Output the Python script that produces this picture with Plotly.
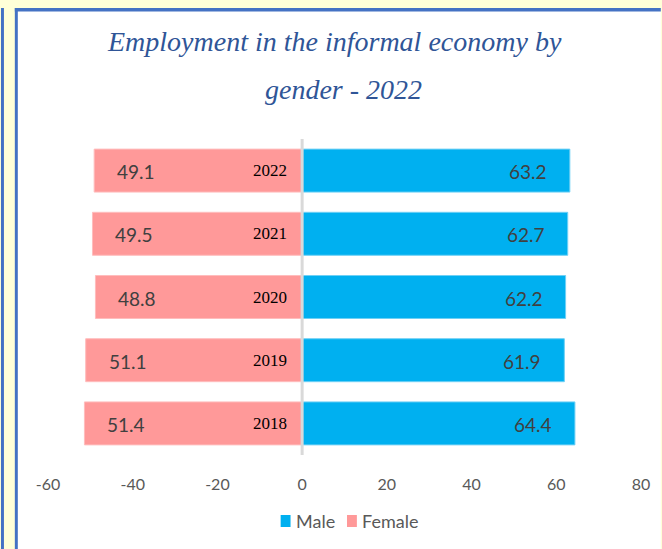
import plotly.graph_objects as go

# Share of employment in the informal economy (%), by gender
years = ["2018", "2019", "2020", "2021", "2022"]
male = [64.4, 61.9, 62.2, 62.7, 63.2]
female = [51.4, 51.1, 48.8, 49.5, 49.1]
tick_values = [-60, -40, -20, 0, 20, 40, 60, 80]

MALE_COLOR = "#00B0F0"
FEMALE_COLOR = "#FF9999"
FRAME_BLUE = "#4472C4"
LABEL_GREY = "#404040"
AXIS_GREY = "#595959"
SERIF = "Liberation Serif, Times New Roman, serif"
SANS = "Lato, sans-serif"

W, H = 662, 549
L, R, T, B = 48, 15, 139, 94
PW, PH = W - L - R, H - T - B


def px(x):
    """Pixel x -> paper x."""
    return (x - L) / PW


def py(y):
    """Pixel y -> paper y."""
    return (H - B - y) / PH


fig = go.Figure()

fig.add_trace(go.Bar(
    name="Male", y=years, x=male, orientation="h",
    marker=dict(color=MALE_COLOR, line=dict(color="#6FD0F5", width=1)),
    hoverinfo="x+y",
))
fig.add_trace(go.Bar(
    name="Female", y=years, x=[-v for v in female], orientation="h",
    marker=dict(color=FEMALE_COLOR, line=dict(color="#FFBDBD", width=1)),
    customdata=female, hovertemplate="%{customdata}<extra>Female</extra>",
))

annotations = [
    dict(text="<i>Employment in the informal economy by</i>", xref="paper", yref="paper",
         x=px(337), y=py(42), xanchor="center", yanchor="middle", showarrow=False,
         font=dict(family=SERIF, size=28, color="#2F5597")),
    dict(text="<i>gender - 2022</i>", xref="paper", yref="paper",
         x=px(346), y=py(89), xanchor="center", yanchor="middle", showarrow=False,
         font=dict(family=SERIF, size=28, color="#2F5597")),
]

# category axis: annotations are placed by category index
for i, (yr, m, f) in enumerate(zip(years, male, female)):
    annotations.append(dict(
        text=yr, x=0, y=i, xref="x", yref="y", xanchor="right", yanchor="middle",
        xshift=-13, showarrow=False,
        font=dict(family=SERIF, size=17, color="#000000"),
    ))
    annotations.append(dict(
        text=f"{f}", x=-f, y=i, xref="x", yref="y", xanchor="left", yanchor="middle",
        xshift=21, yshift=-1, showarrow=False,
        font=dict(family=SANS, size=19, color=LABEL_GREY),
    ))
    annotations.append(dict(
        text=f"{m}", x=m, y=i, xref="x", yref="y", xanchor="right", yanchor="middle",
        xshift=-21, yshift=-1, showarrow=False,
        font=dict(family=SANS, size=19, color=LABEL_GREY),
    ))

# legend drawn as swatches + labels
legend_items = [("Male", MALE_COLOR, 283), ("Female", FEMALE_COLOR, 350)]
legend_shapes = []
for name, color, x0 in legend_items:
    legend_shapes.append(dict(
        type="rect", xref="paper", yref="paper", x0=px(x0), x1=px(x0 + 10),
        y0=py(527), y1=py(515), fillcolor=color, line=dict(width=0),
    ))
    annotations.append(dict(
        text=name, xref="paper", yref="paper", x=px(x0 + 13), y=py(521),
        xanchor="left", yanchor="middle", showarrow=False,
        font=dict(family=SANS, size=18, color=AXIS_GREY),
    ))

shapes = [
    # white panel
    dict(type="rect", xref="paper", yref="paper", x0=px(17), x1=px(W + 5),
         y0=py(11), y1=py(H + 5), fillcolor="white", line=dict(width=0), layer="below"),
    # outer left rule
    dict(type="rect", xref="paper", yref="paper", x0=px(0.5), x1=px(3.5),
         y0=py(8), y1=py(H + 5), fillcolor=FRAME_BLUE, line=dict(width=0), layer="below"),
    # inner left rule
    dict(type="rect", xref="paper", yref="paper", x0=px(14.5), x1=px(17.5),
         y0=py(8), y1=py(H + 5), fillcolor=FRAME_BLUE, line=dict(width=0), layer="below"),
    # top rule
    dict(type="rect", xref="paper", yref="paper", x0=px(14.5), x1=px(W + 5),
         y0=py(8), y1=py(11.5), fillcolor=FRAME_BLUE, line=dict(width=0), layer="below"),
    # centre (zero) line drawn over the bars
    dict(type="line", xref="x", yref="paper", x0=0, x1=0, y0=0, y1=1,
         line=dict(color="#D9D9D9", width=3), layer="above"),
] + legend_shapes

fig.update_layout(
    width=W, height=H,
    margin=dict(l=L, r=R, t=T, b=B, pad=0),
    paper_bgcolor="#FFFFD8",
    plot_bgcolor="rgba(0,0,0,0)",
    barmode="relative",
    bargap=0.32,
    showlegend=False,
    xaxis=dict(
        range=[-60, 80], tickvals=tick_values, ticktext=[str(v) for v in tick_values],
        showgrid=False, zeroline=False, showline=False, ticks="",
        tickfont=dict(family=SANS, size=16, color=AXIS_GREY),
        ticklabelstandoff=18,
    ),
    yaxis=dict(
        type="category", categoryorder="array", categoryarray=years,
        range=[-0.5, 4.5], showticklabels=False, showgrid=False,
        zeroline=False, showline=False, ticks="",
    ),
    annotations=annotations,
    shapes=shapes,
)

fig.write_html("out.html")
